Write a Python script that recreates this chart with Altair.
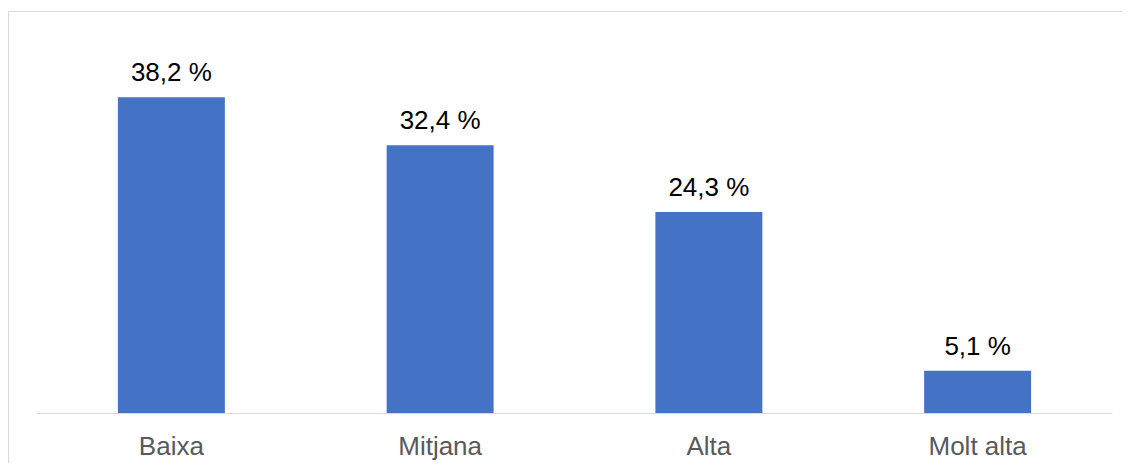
import altair as alt
import pandas as pd

categories = ["Baixa", "Mitjana", "Alta", "Molt alta"]
values = [38.2, 32.4, 24.3, 5.1]
labels = ["38,2 %", "32,4 %", "24,3 %", "5,1 %"]

df = pd.DataFrame({"cat": categories, "val": values, "lab": labels})

W, H = 1075, 372

x = alt.X("cat:N", sort=categories,
          scale=alt.Scale(paddingInner=0.602, paddingOuter=0.301),
          axis=alt.Axis(title=None, labelAngle=0, labelFontSize=26, labelFont="Liberation Sans",
                        labelColor="#595959", ticks=False, tickSize=0, labelPadding=20,
                        domainColor="#d9d9d9", domainWidth=1, grid=False))
y = alt.Y("val:Q", scale=alt.Scale(domain=[0, 45], nice=False), axis=None)

bars = alt.Chart(df).mark_bar(color="#4472C4").encode(x=x, y=y)
text = alt.Chart(df).mark_text(dy=-16, baseline="alphabetic", fontSize=26,
                               font="Liberation Sans", color="#000000").encode(
    x=alt.X("cat:N", sort=categories), y="val:Q", text="lab:N")

border = alt.Chart(alt.Data(values=[{}])).mark_rect(
    fill=None, stroke="#d9d9d9", strokeWidth=1).encode(
    x=alt.value(-28.5), x2=alt.value(W + 30), y=alt.value(-29.5), y2=alt.value(H + 70))

chart = alt.layer(border, bars, text).properties(
    width=W, height=H,
    background="white",
    autosize=alt.AutoSizeParams(type="none"),
    padding={"left": 29, "top": 33, "right": 10, "bottom": 50},
).configure_view(strokeWidth=0, stroke=None)

chart.save("out.html", embed_options={"renderer": "svg", "actions": False})
